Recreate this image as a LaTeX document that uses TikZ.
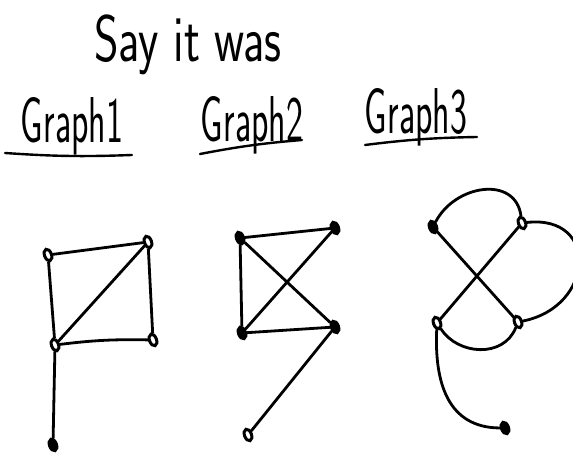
\documentclass[tikz,border=0pt]{standalone}
\usetikzlibrary{shapes.geometric}
\begin{document}
\begin{tikzpicture}[x=1pt,y=1pt,
  vtx/.style={ellipse,draw=black,line width=3pt,fill=white,inner sep=0pt,minimum width=7pt,minimum height=12pt,rotate=20},
  vtxd/.style={vtx,fill=black},
  edge/.style={line width=2.8pt,line cap=round},
  uline/.style={line width=2.4pt,line cap=round},
  ttl/.style={font=\sffamily\fontsize{36}{40}\selectfont,anchor=base,inner sep=0pt}]
\useasboundingbox (0,0) rectangle (573,460);
% titles
\node[ttl,font=\sffamily\fontsize{47}{50}\selectfont] (say) at (188,398) {\scalebox{1}[1.4]{Say it was}};
\node[ttl] (t1) at (72,317) {\scalebox{1}[1.8]{Graph1}};
\node[ttl] (t2) at (252,318) {\scalebox{1}[1.8]{Graph2}};
\node[ttl] (t3) at (416,326) {\scalebox{1}[1.8]{Graph3}};
\coordinate (u1a) at (5,307); \coordinate (u1b) at (132,305);
\coordinate (u2a) at (200,306); \coordinate (u2b) at (302,320);
\coordinate (u3a) at (365,315); \coordinate (u3b) at (477,323);
\draw[uline] (u1a) to[bend right=3] (u1b);
\draw[uline] (u2a) to[bend left=3] (u2b);
\draw[uline] (u3a) to[bend left=3] (u3b);
% graph 1
\node[vtx] (a1) at (48,205) {};
\node[vtx] (b1) at (148,218) {};
\node[vtx] (c1) at (55,115) {};
\node[vtx] (d1) at (153,120) {};
\node[vtxd] (e1) at (53,15) {};
\draw[edge] (a1) -- (b1) (b1) -- (d1) (a1) -- (c1) (c1) -- (b1) (c1) to[bend left=4] (d1) (c1) -- (e1);
% graph 2
\node[vtxd] (a2) at (240,222) {};
\node[vtxd] (b2) at (335,232) {};
\node[vtxd] (c2) at (242,127) {};
\node[vtxd] (d2) at (335,133) {};
\node[vtx] (e2) at (248,25) {};
\draw[edge] (a2) -- (b2) (a2) -- (c2) (a2) -- (d2) (b2) -- (c2) (c2) -- (d2) (d2) -- (e2);
% graph 3
\node[vtxd] (a3) at (433,233) {};
\node[vtx] (b3) at (522,237) {};
\node[vtx] (c3) at (437,137) {};
\node[vtx] (d3) at (518,138) {};
\node[vtxd] (e3) at (505,32) {};
\draw[edge] (a3) -- (d3) (b3) -- (c3);
\draw[edge] (a3) to[out=60,in=95,looseness=1.25] (b3);
\draw[edge] (b3) to[out=5,in=10,looseness=1.9] (d3);
\draw[edge] (c3) to[out=-60,in=-115,looseness=1.1] (d3);
\draw[edge] (c3) to[out=-95,in=178,looseness=1.15] (e3);
\end{tikzpicture}
\end{document}
